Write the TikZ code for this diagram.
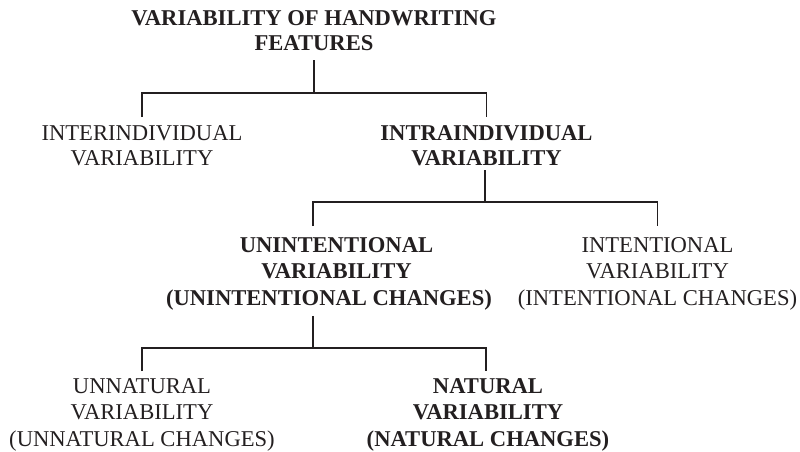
\documentclass[tikz,border=0pt]{standalone}
\usepackage{fontspec}
\setmainfont{Liberation Serif}
\definecolor{ink}{HTML}{231F20}
\begin{document}
\begin{tikzpicture}[x=1pt,y=-1pt,
  lbl/.style={inner sep=0pt, anchor=north, align=center, text=ink, text depth=0pt},
  fa/.style={lbl, font=\fontsize{22.6}{25}\selectfont},
  fab/.style={lbl, font=\fontsize{22.6}{25}\selectfont\bfseries},
  fb/.style={lbl, font=\fontsize{22.6}{26.7}\selectfont},
  fbb/.style={lbl, font=\fontsize{22.6}{26.7}\selectfont\bfseries},
  conn/.style={draw=ink, line width=1.8pt, line join=miter}]
\useasboundingbox (0,0) rectangle (800,452);
\node[fab] (title) at (314,10) {VARIABILITY OF HANDWRITING\\FEATURES};
\node[fa] (inter) at (142,125) {INTERINDIVIDUAL\\VARIABILITY};
\node[fab] (intra) at (486.5,125) {INTRAINDIVIDUAL\\VARIABILITY};
\node[fbb] (unint) at (329,237) {\hspace*{15pt}UNINTENTIONAL\\\hspace*{15pt}VARIABILITY\\(UNINTENTIONAL CHANGES)};
\node[fb] (inten) at (657.5,237) {INTENTIONAL\\VARIABILITY\\(INTENTIONAL CHANGES)};
\node[fb] (unnat) at (142,378) {UNNATURAL\\VARIABILITY\\(UNNATURAL CHANGES)};
\node[fbb] (nat) at (488,378) {NATURAL\\VARIABILITY\\(NATURAL CHANGES)};
\coordinate (j1) at (314,93);
\coordinate (j2) at (485,202);
\coordinate (j3) at (313,348);
\draw[conn] ([yshift=-10pt]title.south) -- (j1);
\draw[conn] ([yshift=8pt]inter.north) |- (j1) -| ([yshift=8pt]intra.north);
\draw[conn] ([xshift=-1.5pt,yshift=-5pt]intra.south) -- (j2);
\draw[conn] ([xshift=-16pt,yshift=11pt]unint.north) |- (j2) -| ([yshift=11pt]inten.north);
\draw[conn] ([xshift=-16pt,yshift=-10pt]unint.south) -- (j3);
\draw[conn] ([yshift=7pt]unnat.north) |- (j3) -| ([xshift=-2pt,yshift=7pt]nat.north);
\end{tikzpicture}
\end{document}
